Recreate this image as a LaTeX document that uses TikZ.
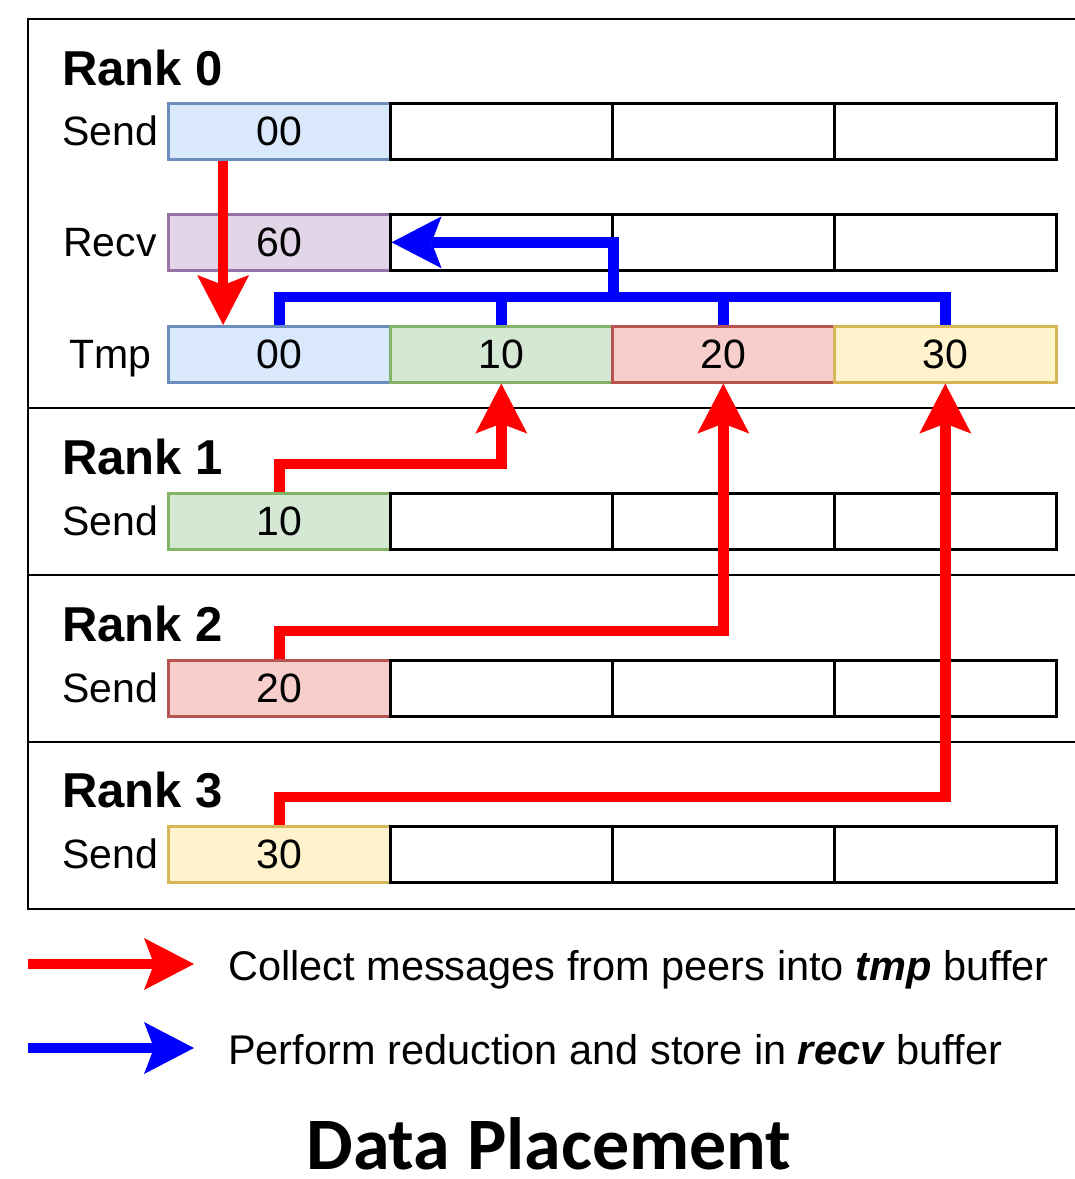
\documentclass[tikz,border=0pt]{standalone}
\usepackage{fontspec}
\setmainfont{Liberation Sans}
\newfontfamily\titlefont{Carlito}
\usetikzlibrary{arrows.meta,calc}

\definecolor{bluefill}{HTML}{DAE8FC}\definecolor{bluedraw}{HTML}{6C8EBF}
\definecolor{purplefill}{HTML}{E1D5E7}\definecolor{purpledraw}{HTML}{9673A6}
\definecolor{greenfill}{HTML}{D5E8D4}\definecolor{greendraw}{HTML}{82B366}
\definecolor{redfill}{HTML}{F8CECC}\definecolor{reddraw}{HTML}{B85450}
\definecolor{yellowfill}{HTML}{FFF2CC}\definecolor{yellowdraw}{HTML}{D6B656}
\definecolor{flowred}{HTML}{FF0000}\definecolor{flowblue}{HTML}{0000FF}

\begin{document}
\begin{tikzpicture}[x=1bp,y=-1bp,
  cell/.style={draw=black, fill=white, line width=2.6bp, minimum width=222bp,
    minimum height=56bp, inner sep=0pt, anchor=north west,
    font=\fontsize{41bp}{41bp}\selectfont},
  bluecell/.style={cell, fill=bluefill, draw=bluedraw},
  purplecell/.style={cell, fill=purplefill, draw=purpledraw},
  greencell/.style={cell, fill=greenfill, draw=greendraw},
  redcell/.style={cell, fill=redfill, draw=reddraw},
  yellowcell/.style={cell, fill=yellowfill, draw=yellowdraw},
  rowlabel/.style={inner sep=0pt, text height=30bp, text depth=0pt,
    font=\fontsize{41bp}{41bp}\selectfont},
  ranklabel/.style={inner sep=0pt, anchor=base west,
    font=\fontsize{49bp}{49bp}\selectfont\bfseries},
  headtip/.tip={Stealth[length=50bp, width=52bp, inset=10bp, line width=0pt]},
  collect/.style={draw=flowred, line width=10.5bp, line join=miter, -{headtip}},
  reduce/.style={draw=flowblue, line width=10.5bp, line join=miter},
  divider/.style={draw=black, line width=2.6bp},
  legendtext/.style={inner sep=0pt, anchor=base west,
    font=\fontsize{41.5bp}{41.5bp}\selectfont}
]
\useasboundingbox (0,0) rectangle (1075,1179);
\clip (0,0) rectangle (1075,1179);

% outer frame and rank separators
\draw[divider] (28,19) rectangle (1100,909);
\foreach \yy in {408,575,742} \draw[divider] (28,\yy) -- (1100,\yy);

% rank titles
\node[ranklabel] (rank0) at (62,85) {Rank 0};
\node[ranklabel] (rank1) at (62,474) {Rank 1};
\node[ranklabel] (rank2) at (62,641) {Rank 2};
\node[ranklabel] (rank3) at (62,807) {Rank 3};

% rank 0 buffers
\node[rowlabel] (lsend0) at (110,130) {Send};
\node[rowlabel] (lrecv0) at (110,241) {Recv};
\node[rowlabel] (ltmp0) at (110,353) {Tmp};

\node[bluecell] (s00) at (167,102) {00};
\node[cell] (s01) at (389,102) {};
\node[cell] (s02) at (611,102) {};
\node[cell] (s03) at (833,102) {};

\node[purplecell] (r60) at (167,213) {60};
\node[cell] (r61) at (389,213) {};
\node[cell] (r62) at (611,213) {};
\node[cell] (r63) at (833,213) {};

\node[bluecell] (t00) at (167,325) {00};
\node[greencell] (t10) at (389,325) {10};
\node[redcell] (t20) at (611,325) {20};
\node[yellowcell] (t30) at (833,325) {30};

% rank 1..3 send buffers
\node[rowlabel] (lsend1) at (110,520) {Send};
\node[greencell] (s10) at (167,492) {10};
\node[cell] (s11) at (389,492) {};
\node[cell] (s12) at (611,492) {};
\node[cell] (s13) at (833,492) {};

\node[rowlabel] (lsend2) at (110,687) {Send};
\node[redcell] (s20) at (167,659) {20};
\node[cell] (s21) at (389,659) {};
\node[cell] (s22) at (611,659) {};
\node[cell] (s23) at (833,659) {};

\node[rowlabel] (lsend3) at (110,853) {Send};
\node[yellowcell] (s30) at (167,825) {30};
\node[cell] (s31) at (389,825) {};
\node[cell] (s32) at (611,825) {};
\node[cell] (s33) at (833,825) {};

% local copy of the own block into tmp
\draw[collect] ($(s00.south west)!0.25!(s00.south east)$)
  -- ($(t00.north west)!0.25!(t00.north east)$);

% reduction: tmp blocks gathered on a bus, result into recv
\coordinate (bus) at (0,297);
\draw[reduce] (t00.north) |- (t30.north |- bus) -- (t30.north);
\draw[reduce] (t10.north) -- (t10.north |- bus);
\draw[reduce] (t20.north) -- (t20.north |- bus);
\draw[reduce, -{headtip}] (t10.north east |- bus) |- (r60.east);

% peers send their blocks into tmp
\draw[collect] (s10.north) -- ++(0,-28) -| (t10.south);
\draw[collect] (s20.north) -- ++(0,-28) -| (t20.south);
\draw[collect] (s30.north) -- ++(0,-28) -| (t30.south);

% legend
\coordinate (lr0) at (28,964);
\coordinate (lr1) at (194,964);
\coordinate (lb0) at (28,1048);
\coordinate (lb1) at (194,1048);
\draw[collect] (lr0) -- (lr1);
\draw[reduce, -{headtip}] (lb0) -- (lb1);
\node[legendtext] (leg1) at (228,980)
  {Collect messages from peers into \textbf{\textit{tmp}} buffer};
\node[legendtext] (leg2) at (228,1064)
  {Perform reduction and store in \textbf{\textit{recv}} buffer};

% caption
\node[inner sep=0pt, anchor=base, text depth=0pt,
  font=\fontsize{74bp}{74bp}\selectfont\titlefont\bfseries]
  (caption) at (549,1169) {Data Placement};
\end{tikzpicture}
\end{document}
